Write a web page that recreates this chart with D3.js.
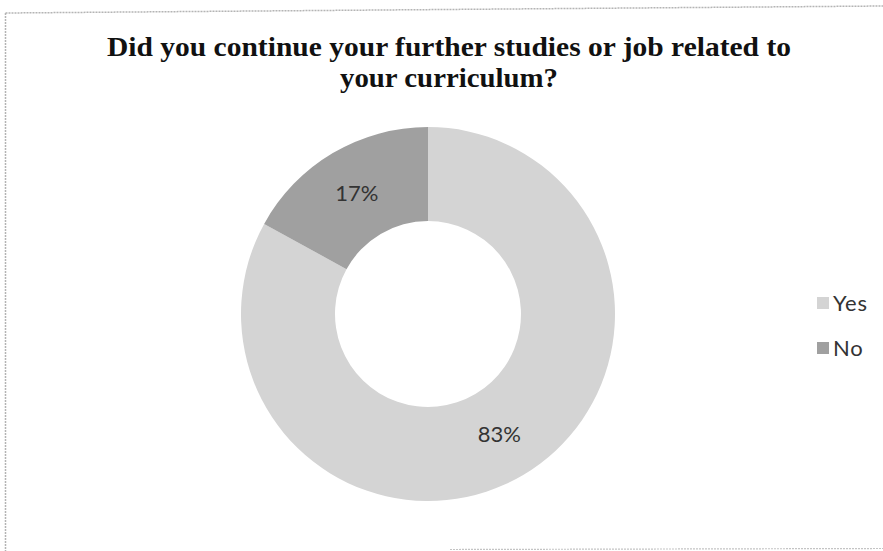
<!DOCTYPE html>
<html>
<head>
<meta charset="utf-8">
<script src="https://cdn.jsdelivr.net/npm/d3@7"></script>
<style>
  html, body { margin: 0; padding: 0; background: #fff; }
  svg { display: block; }
</style>
</head>
<body>
<svg id="chart" width="883" height="551"></svg>
<script>
const titleLines = ["Did you continue your further studies or job related to", "your curriculum?"];
const categories = ["Yes", "No"];
const values = [83, 17];
const labels = ["83%", "17%"];
const colors = ["#d4d4d4", "#a0a0a0"];

const svg = d3.select("#chart");

// scanned frame
svg.append("line").attr("x1", 5.5).attr("y1", 13).attr("x2", 883).attr("y2", 6)
  .attr("stroke", "#b4b4b4").attr("stroke-width", 1.5).attr("stroke-dasharray", "2,1");
svg.append("line").attr("x1", 5.5).attr("y1", 13).attr("x2", 5.5).attr("y2", 551)
  .attr("stroke", "#b4b4b4").attr("stroke-width", 1.5).attr("stroke-dasharray", "2,1");
svg.append("line").attr("x1", 450).attr("y1", 549.5).attr("x2", 883).attr("y2", 548.5)
  .attr("stroke", "#c4c4c4").attr("stroke-width", 1.2).attr("stroke-dasharray", "2,1");

// title
const titleWidths = [684, 218];
const title = svg.append("g")
  .attr("font-family", "'Liberation Serif', 'Times New Roman', serif")
  .attr("font-weight", "bold")
  .attr("font-size", 27)
  .attr("fill", "#111");
titleLines.forEach((t, i) => {
  title.append("text")
    .attr("text-anchor", "middle")
    .attr("x", 449).attr("y", 56 + i * 31)
    .attr("textLength", titleWidths[i])
    .attr("lengthAdjust", "spacingAndGlyphs")
    .text(t);
});

// donut
const cx = 428, cy = 314, outerR = 187, innerR = 93;
const pie = d3.pie().sort(null).value(d => d.value);
const arc = d3.arc().innerRadius(innerR).outerRadius(outerR);
const data = categories.map((c, i) => ({ cat: c, value: values[i], label: labels[i], color: colors[i] }));
const g = svg.append("g").attr("transform", `translate(${cx},${cy})`);
const arcs = pie(data);
g.selectAll("path").data(arcs).join("path")
  .attr("d", arc)
  .attr("fill", d => d.data.color);
g.selectAll("text").data(arcs).join("text")
  .attr("transform", d => `translate(${arc.centroid(d)})`)
  .attr("text-anchor", "middle")
  .attr("dy", "0.36em")
  .attr("font-family", "Lato, 'Open Sans', sans-serif")
  .attr("font-size", 22)
  .attr("fill", "#333")
  .text(d => d.data.label);

// legend
const legend = svg.append("g").attr("transform", "translate(817,303)");
const item = legend.selectAll("g").data(data).join("g")
  .attr("transform", (d, i) => `translate(0,${i * 45})`);
item.append("rect").attr("x", 0).attr("y", -6).attr("width", 12).attr("height", 12)
  .attr("fill", d => d.color);
item.append("text").attr("x", 16).attr("dy", "0.36em")
  .attr("font-family", "Lato, 'Open Sans', sans-serif")
  .attr("font-size", 22)
  .attr("letter-spacing", 0.8)
  .attr("fill", "#333")
  .text(d => d.cat);
</script>
</body>
</html>
